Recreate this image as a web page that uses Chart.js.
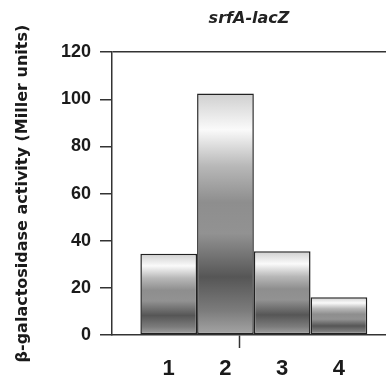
<!DOCTYPE html>
<html>
<head>
<meta charset="utf-8">
<script src="https://cdn.jsdelivr.net/npm/chart.js@4/dist/chart.umd.min.js"></script>
<style>
  html, body { margin: 0; padding: 0; background: #fff; }
  #wrap { width: 386px; height: 381px; }
</style>
</head>
<body>
<div id="wrap"><canvas id="activity-chart"></canvas></div>
<script>
const categories = ['1', '2', '3', '4'];
const activity = [34.5, 102.5, 35.5, 16];
const yTicks = [0, 20, 40, 60, 80, 100, 120];

const title = 'srfA-lacZ';
const yTitle = '\u03b2-galactosidase activity (Miller units)';

const ink = '#333333';

// each bar gets its own metallic band gradient, top to baseline
function barFill(context) {
    const chart = context.chart;
    const y = chart.scales.y;
    if (!y || context.type !== 'data' || !context.raw) {
        return '#888888';
    }
    const top = y.getPixelForValue(context.raw.y);
    const bottom = y.getPixelForValue(0);
    if (!isFinite(top) || !isFinite(bottom) || top === bottom) {
        return '#888888';
    }
    const g = chart.ctx.createLinearGradient(0, top, 0, bottom);
    g.addColorStop(0, '#cfcfcf');
    g.addColorStop(0.15, '#fafafa');
    g.addColorStop(0.3, '#b8b8b8');
    g.addColorStop(0.45, '#8e8e8e');
    g.addColorStop(0.58, '#929292');
    g.addColorStop(0.76, '#565656');
    g.addColorStop(0.9, '#7c7c7c');
    g.addColorStop(1, '#a6a6a6');
    return g;
}

const points = categories.map((c, i) => ({ x: i + 1, y: activity[i] }));

new Chart(document.getElementById('activity-chart'), {
    type: 'bar',
    data: {
        datasets: [{
            label: title,
            data: points,
            backgroundColor: barFill,
            borderColor: '#222222',
            borderWidth: 1.5,
            borderSkipped: false,
            categoryPercentage: 1,
            // the extra tick at 2.5 halves the ruler's min gap, so 2 = one full unit
            barPercentage: 2,
        }]
    },
    options: {
        responsive: true,
        maintainAspectRatio: false,
        animation: false,
        layout: { padding: 0 },
        plugins: {
            legend: { display: false },
            tooltip: { enabled: false },
            title: {
                display: true,
                fullSize: false,
                text: title,
                color: '#222222',
                font: { family: 'DejaVu Sans', size: 16, weight: 'bold', style: 'italic' },
                padding: { top: 9, bottom: 24 },
            },
        },
        scales: {
            x: {
                type: 'linear',
                offset: false,
                min: 0,
                max: 4.83,
                afterBuildTicks: (scale) => {
                    scale.ticks = [0, 1, 2, 2.5, 3, 4].map(v => ({ value: v }));
                },
                afterFit: (scale) => { scale.height = 46; },
                border: { display: true, color: ink, width: 1.5 },
                grid: {
                    drawOnChartArea: false,
                    drawTicks: true,
                    tickLength: 13,
                    tickWidth: 1.5,
                    tickColor: (ctx) => (ctx.tick && (ctx.tick.value === 0 || ctx.tick.value === 2.5)) ? ink : 'rgba(0,0,0,0)',
                },
                ticks: {
                    autoSkip: false,
                    maxRotation: 0,
                    padding: 8,
                    color: '#1a1a1a',
                    font: { family: 'Liberation Sans', size: 22, weight: 'bold' },
                    callback: (v) => Number.isInteger(v) && v >= 1 && v <= categories.length ? categories[v - 1] : '',
                },
            },
            y: {
                min: 0,
                max: 120,
                afterBuildTicks: (scale) => {
                    scale.ticks = yTicks.map(v => ({ value: v }));
                },
                border: { display: true, color: ink, width: 1.5 },
                grid: {
                    drawOnChartArea: true,
                    lineWidth: 1.5,
                    color: (ctx) => (ctx.tick && ctx.tick.value === 120) ? ink : 'rgba(0,0,0,0)',
                    tickColor: ink,
                    tickWidth: 1.5,
                    tickLength: 12,
                },
                ticks: {
                    padding: 9,
                    color: '#1a1a1a',
                    font: { family: 'Liberation Sans', size: 18, weight: 'bold' },
                },
                title: {
                    display: true,
                    text: yTitle,
                    color: '#1a1a1a',
                    font: { family: 'DejaVu Sans', size: 16, weight: 'bold' },
                    padding: { top: 13, bottom: 12 },
                },
                afterFit: (scale) => { scale.width = 112; },
            },
        },
    },
});
</script>
</body>
</html>
